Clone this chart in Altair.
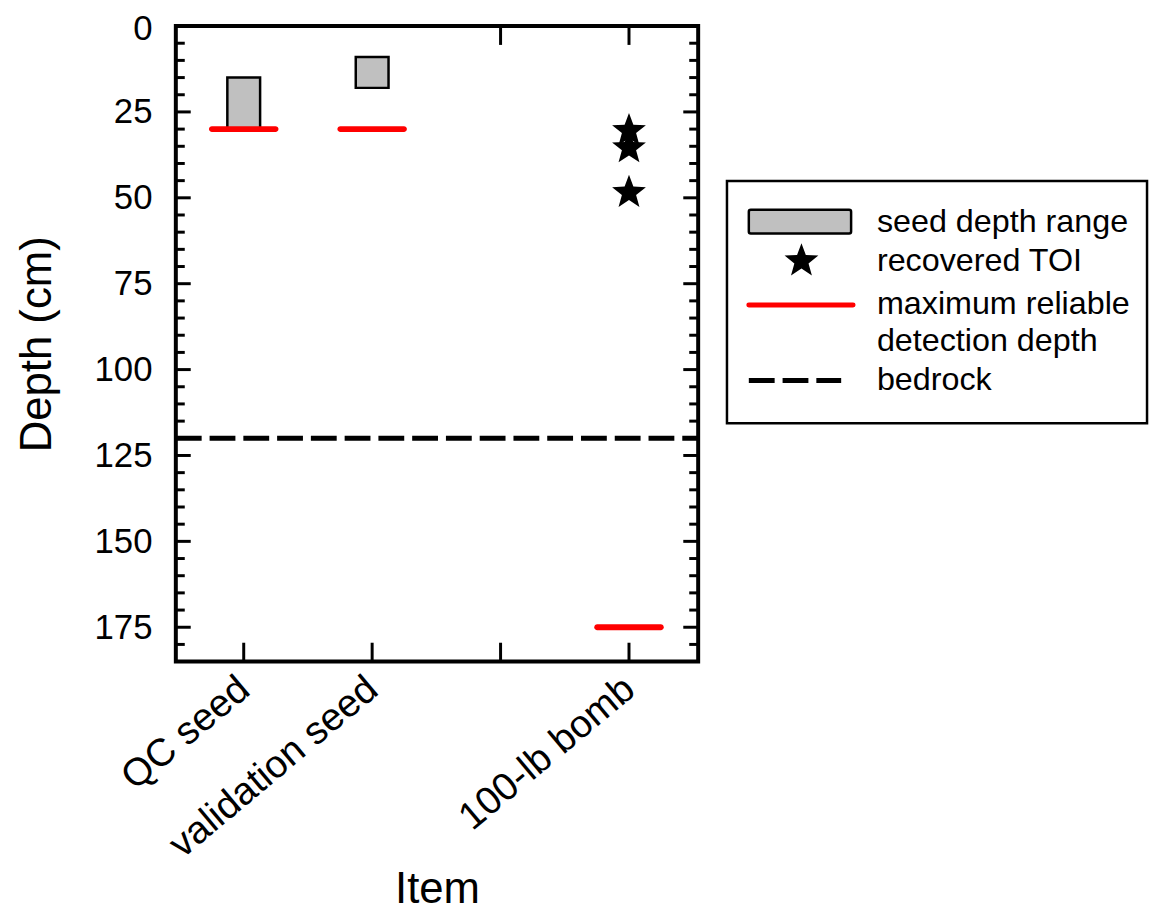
import json
import altair as alt
import pandas as pd

# ---------------- data ----------------
categories = ["QC seed", "validation seed", "", "100-lb bomb"]
cat_pos = [1, 2, 3, 4]

seed_pos = [1, 2]
seed_top = [15, 9]
seed_bottom = [30, 18]

toi_pos = [4, 4, 4]
toi_depth = [30, 35, 48]

det_pos = [1, 2, 4]
det_depth = [30, 30, 175]

bedrock_depth = [120]

y_major = [0, 25, 50, 75, 100, 125, 150, 175]
y_minor = [v for v in range(5, 185, 5) if v % 25 != 0]
top_tick_pos = [3, 4]

legend_labels = ["seed depth range", "recovered TOI", "maximum reliable",
                 "detection depth", "bedrock"]

# ---------------- layout ----------------
W, H = 526, 640
FONT = "Liberation Sans"
STAR = ("M0,-0.9045L0.2469,-0.2443L0.9511,-0.2135L0.3994,0.2253L0.5878,0.9045"
        "L0,0.5155L-0.5878,0.9045L-0.3994,0.2253L-0.9511,-0.2135L-0.2469,-0.2443Z")
STAR_SIZE = 1280

xscale = alt.Scale(domain=[0.51, 4.50], nice=False, zero=False)
yscale = alt.Scale(domain=[0, 185], reverse=True, nice=False, zero=False)

label_expr = json.dumps([""] + categories) + "[datum.value]"

xaxis = alt.Axis(values=cat_pos, labelExpr=label_expr, domain=False, ticks=False,
                 tickSize=0, grid=False, labelAngle=320, labelAlign="right",
                 labelBaseline="middle", labelPadding=22, labelFontSize=39,
                 labelFont=FONT, labelColor="black", labelOverlap=False,
                 labelFlush=False, labelLimit=0, title="Item", titleFont=FONT,
                 titleFontSize=44, titleFontWeight="normal", titleColor="black",
                 titleY=243, titleBaseline="alphabetic")
yaxis = alt.Axis(values=y_major, domain=False, ticks=False, tickSize=0, grid=False,
                 labelPadding=24, labelFontSize=35, labelFont=FONT,
                 labelColor="black", labelOverlap=False, labelFlush=False,
                 labelLimit=0,
                 labelOffset={"condition": {"test": "datum.value === 0", "value": 3},
                              "value": 0},
                 title="Depth (cm)", titleFont=FONT, titleFontSize=44,
                 titleFontWeight="normal", titleColor="black", titleX=-139,
                 titleBaseline="middle")

X = alt.X("x:Q", scale=xscale, axis=xaxis)
Y = alt.Y("y:Q", scale=yscale, axis=yaxis)

seed_df = pd.DataFrame({"x": seed_pos, "y": seed_top, "y2": seed_bottom})
toi_df = pd.DataFrame({"x": toi_pos, "y": toi_depth})
det_df = pd.DataFrame({"x": det_pos, "y": det_depth})
bed_df = pd.DataFrame({"y": bedrock_depth})
major_df = pd.DataFrame({"y": y_major})
minor_df = pd.DataFrame({"y": y_minor})
xt_df = pd.DataFrame({"x": cat_pos})
topt_df = pd.DataFrame({"x": top_tick_pos})
one = pd.DataFrame({"a": [0]})

bars = alt.Chart(seed_df).mark_bar(size=33, color="#c0c0c0", stroke="black",
                                   strokeWidth=2.5, opacity=1).encode(
    x=X, y=Y, y2="y2:Q")

det = alt.Chart(det_df).mark_tick(orient="horizontal", size=70, thickness=6,
                                  color="#ff0000", opacity=1,
                                  cornerRadius=3).encode(x=X, y=Y)

stars = alt.Chart(toi_df).mark_point(shape=STAR, filled=True, size=STAR_SIZE,
                                     color="black", opacity=1,
                                     strokeWidth=0).encode(x=X, y=Y)

bedrock = alt.Chart(bed_df).mark_rule(color="black", strokeWidth=5,
                                      strokeDash=[26, 8]).encode(
    y=Y, x=alt.value(0), x2=alt.value(W))

tick_style = dict(color="black", strokeWidth=3)
lt_major = alt.Chart(major_df).mark_rule(**tick_style).encode(
    y=Y, x=alt.value(0), x2=alt.value(15))
lt_minor = alt.Chart(minor_df).mark_rule(**tick_style).encode(
    y=Y, x=alt.value(0), x2=alt.value(9))
rt_major = alt.Chart(major_df).mark_rule(**tick_style).encode(
    y=Y, x=alt.value(W - 15), x2=alt.value(W))
rt_minor = alt.Chart(minor_df).mark_rule(**tick_style).encode(
    y=Y, x=alt.value(W - 9), x2=alt.value(W))
bt = alt.Chart(xt_df).mark_rule(**tick_style).encode(
    x=X, y=alt.value(H - 19), y2=alt.value(H))
tt = alt.Chart(topt_df).mark_rule(**tick_style).encode(
    x=X, y=alt.value(0), y2=alt.value(19))

# ---------------- legend ----------------
leg_box = alt.Chart(one).mark_rect(fill="white", stroke="black", strokeWidth=2.5).encode(
    x=alt.value(555), x2=alt.value(978), y=alt.value(156), y2=alt.value(400))
leg_rect = alt.Chart(one).mark_rect(fill="#c0c0c0", stroke="black", strokeWidth=2.5,
                                    cornerRadius=2).encode(
    x=alt.value(577), x2=alt.value(680), y=alt.value(185), y2=alt.value(209))
leg_star = alt.Chart(one).mark_point(shape=STAR, filled=True, size=STAR_SIZE,
                                     color="black", opacity=1, strokeWidth=0).encode(
    x=alt.value(630), y=alt.value(235))
leg_red = alt.Chart(one).mark_rule(color="#ff0000", strokeWidth=5, strokeCap="round").encode(
    x=alt.value(577), x2=alt.value(682), y=alt.value(281))
leg_dash = alt.Chart(one).mark_rule(color="black", strokeWidth=5,
                                    strokeDash=[26, 8]).encode(
    x=alt.value(577), x2=alt.value(670), y=alt.value(357))
baselines = [207, 247, 290, 327, 367]
leg_texts = [
    alt.Chart(one).mark_text(text=lab, align="left", baseline="alphabetic",
                             fontSize=32.5, font=FONT, color="black").encode(
        x=alt.value(706), y=alt.value(b))
    for lab, b in zip(legend_labels, baselines)
]

chart = alt.layer(
    bedrock, bars, det, stars, lt_major, lt_minor, rt_major, rt_minor, bt, tt,
    leg_box, leg_rect, leg_star, leg_red, leg_dash, *leg_texts
).properties(
    width=W, height=H,
    background="white",
    autosize=alt.AutoSizeParams(type="none"),
    padding={"left": 169, "top": 15, "right": 457, "bottom": 251},
).configure_view(stroke="black", strokeWidth=4)

chart.save("out.html", embed_options={"renderer": "svg", "actions": False})
